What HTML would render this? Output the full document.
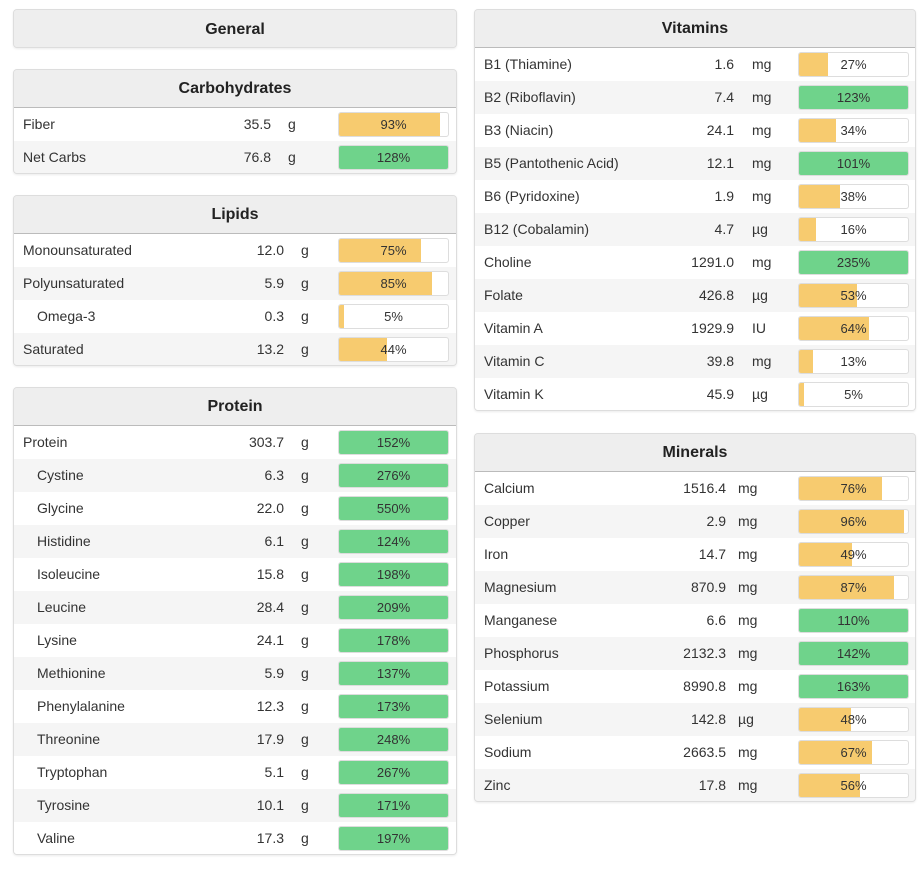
<!DOCTYPE html>
<html><head><meta charset="utf-8"><style>
body{margin:0;background:#fff;width:923px;height:871px;position:relative;font-family:"Liberation Sans",sans-serif;color:#333;overflow:hidden}
.panel{position:absolute;border:1px solid #ddd;border-radius:4px;box-sizing:border-box;overflow:hidden;background:#f5f5f5;box-shadow:0 1px 2px rgba(0,0,0,.08)}
.hdr{height:37px;background:#eee;border-bottom:1px solid #bbb;text-align:center;font-weight:bold;font-size:16px;line-height:37px;color:#222}
.row{position:relative;height:33px;font-size:14px;line-height:33px}
.row.odd{background:#fff}.row.even{background:#f5f5f5}
.nm{position:absolute;left:9px}
.val{position:absolute;text-align:right}
.unit{position:absolute}
.bar{position:absolute;top:4px;height:25px;width:111px;border:1px solid #ddd;border-radius:3px;background:#fff;box-sizing:border-box;overflow:hidden}
.fill{position:absolute;left:0;top:0;bottom:0}
.pct{position:absolute;left:0;right:0;text-align:center;line-height:23px;font-size:13px;color:#333}
</style></head><body>
<div class="panel" style="left:13px;top:9px;width:444px;height:39px"><div class="hdr" style="border-bottom:none;height:39px;line-height:39px">General</div></div>
<div id="root"></div>
<script>
const carbNames=["Fiber","Net Carbs"];const carbVals=["35.5","76.8"];const carbUnits=["g","g"];const carbPct=[93,128];
const lipNames=["Monounsaturated","Polyunsaturated","Omega-3","Saturated"];const lipVals=["12.0","5.9","0.3","13.2"];const lipUnits=["g","g","g","g"];const lipPct=[75,85,5,44];const lipIndent=[0,0,1,0];
const proNames=["Protein","Cystine","Glycine","Histidine","Isoleucine","Leucine","Lysine","Methionine","Phenylalanine","Threonine","Tryptophan","Tyrosine","Valine"];
const proVals=["303.7","6.3","22.0","6.1","15.8","28.4","24.1","5.9","12.3","17.9","5.1","10.1","17.3"];
const proPct=[152,276,550,124,198,209,178,137,173,248,267,171,197];
const vitNames=["B1 (Thiamine)","B2 (Riboflavin)","B3 (Niacin)","B5 (Pantothenic Acid)","B6 (Pyridoxine)","B12 (Cobalamin)","Choline","Folate","Vitamin A","Vitamin C","Vitamin K"];
const vitVals=["1.6","7.4","24.1","12.1","1.9","4.7","1291.0","426.8","1929.9","39.8","45.9"];
const vitUnits=["mg","mg","mg","mg","mg","µg","mg","µg","IU","mg","µg"];
const vitPct=[27,123,34,101,38,16,235,53,64,13,5];
const minNames=["Calcium","Copper","Iron","Magnesium","Manganese","Phosphorus","Potassium","Selenium","Sodium","Zinc"];
const minVals=["1516.4","2.9","14.7","870.9","6.6","2132.3","8990.8","142.8","2663.5","17.8"];
const minUnits=["mg","mg","mg","mg","mg","mg","mg","µg","mg","mg"];
const minPct=[76,96,49,87,110,142,163,48,67,56];

const root=document.getElementById('root');
function panel(key,title,left,top,width,names,vals,units,pcts,indent,valRight,unitX,barX){
  const p=document.createElement('div');p.className='panel';
  
  
  p.style.left=left+'px';p.style.top=top+'px';p.style.width=width+'px';p.style.height=(38+33*names.length+1)+'px';
  const h=document.createElement('div');h.className='hdr';h.textContent=title;
  
  
  p.appendChild(h);
  names.forEach((n,i)=>{
    const r=document.createElement('div');r.className='row '+(i%2?'even':'odd');
    
    
    const nm=document.createElement('span');nm.className='nm';nm.textContent=n;
    if(indent&&indent[i])nm.style.left='23px';
    
    
    const v=document.createElement('span');v.className='val';v.textContent=vals[i];v.style.right=(width-valRight)+'px';
    
    
    const u=document.createElement('span');u.className='unit';u.textContent=units[i];u.style.left=unitX+'px';
    
    
    const b=document.createElement('div');b.className='bar';b.style.left=barX+'px';
    
    
    const f=document.createElement('div');f.className='fill';
    f.style.width=Math.min(pcts[i],100)+'%';f.style.background=pcts[i]>=100?'#6fd38b':'#f7cb6f';
    
    
    const t=document.createElement('div');t.className='pct';t.textContent=pcts[i]+'%';
    
    
    b.appendChild(f);b.appendChild(t);
    r.appendChild(nm);r.appendChild(v);r.appendChild(u);r.appendChild(b);p.appendChild(r);
  });
  root.appendChild(p);
}
panel('carbohydrates','Carbohydrates',13,69,444,carbNames,carbVals,carbUnits,carbPct,null,259,274,324);
panel('lipids','Lipids',13,195,444,lipNames,lipVals,lipUnits,lipPct,lipIndent,272,287,324);
panel('protein','Protein',13,387,444,proNames,proVals,proNames.map(()=>'g'),proPct,proNames.map((n,i)=>i?1:0),272,287,324);
panel('vitamins','Vitamins',474,9,442,vitNames,vitVals,vitUnits,vitPct,null,261,277,323);
panel('minerals','Minerals',474,433,442,minNames,minVals,minUnits,minPct,null,253,263,323);
</script>
</body></html>
